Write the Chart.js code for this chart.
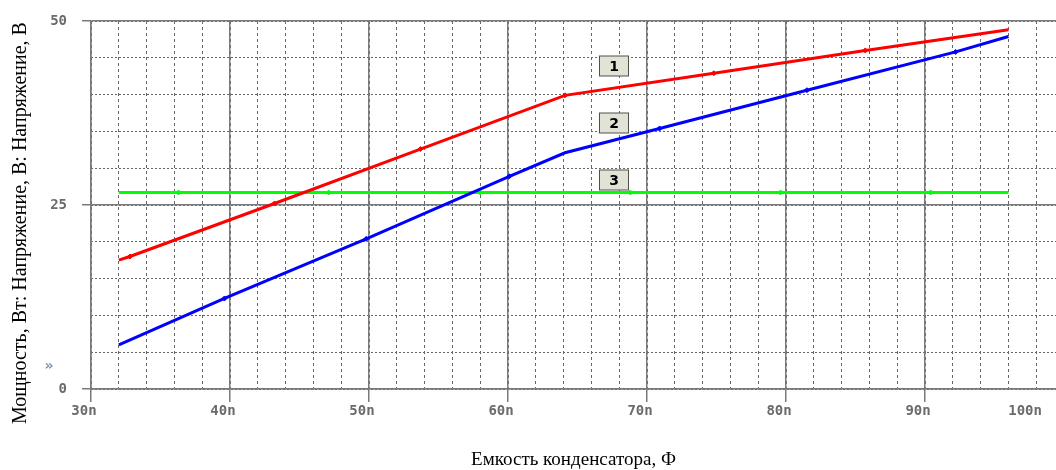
<!DOCTYPE html>
<html><head><meta charset="utf-8">
<script src="https://cdn.jsdelivr.net/npm/chart.js@4.4.1/dist/chart.umd.min.js"></script>
<style>html,body{margin:0;padding:0;background:#fff;overflow:hidden}#wrap{width:1056px;height:470px;position:relative}</style>
</head><body><div id="wrap"><canvas id="c"></canvas></div>
<script>
const xTitle = 'Емкость конденсатора, Ф';
const yTitle = 'Мощность, Вт: Напряжение, В: Напряжение, В';
const xTickValues = [30, 40, 50, 60, 70, 80, 90, 100];
const xTickLabels = ['30n', '40n', '50n', '60n', '70n', '80n', '90n', '100n'];
const yTickLabels = ['0', '25', '50'];
const seriesNames = ['1', '2', '3'];
// capacitance in nF
const redX = [32.0, 32.8, 43.2, 53.7, 64.1, 74.8, 85.7, 96.0];
const redY = [17.5, 18.0, 25.2, 32.6, 39.9, 42.9, 46.0, 48.8];
const redMark = [0, 1, 1, 1, 1, 1, 1, 0];
const blueX = [32.0, 39.6, 49.8, 60.1, 64.1, 70.9, 81.5, 92.2, 96.0];
const blueY = [6.0, 12.3, 20.4, 28.9, 32.1, 35.4, 40.6, 45.8, 47.9];
const blueMark = [0, 1, 1, 1, 0, 1, 1, 1, 0];
const greenX = [32.0, 36.3, 47.1, 58.0, 68.8, 79.6, 90.4, 96.0];
const greenY = [26.7, 26.7, 26.7, 26.7, 26.7, 26.7, 26.7, 26.7];
const greenMark = [0, 1, 1, 1, 1, 1, 1, 0];
const tagX = [67.6, 67.6, 67.6];
const tagY = [43.9, 36.1, 28.4];

const X_MIN = 30, X_MAX = 99.42, LAST_LABEL_AT = 97.7;
const AXIS_GREY = '#7a7a7a', MINOR_GREY = '#666666';

function pts(xs, ys) { return xs.map((x, i) => ({ x: x, y: ys[i] })); }
function ds(label, xs, ys, marks, color) {
  return {
    label: label, data: pts(xs, ys), borderColor: color, backgroundColor: color,
    borderWidth: 3, tension: 0, pointStyle: 'rectRot',
    pointRadius: marks.map(m => m ? 2.5 : 0), pointBorderWidth: 1, pointHoverRadius: 0
  };
}

const overlay = {
  id: 'overlay',
  afterDatasetsDraw(chart) {
    const ctx = chart.ctx, xs = chart.scales.x, ys = chart.scales.y;
    ctx.save();
    for (let i = 0; i < seriesNames.length; i++) {
      const px = Math.round(xs.getPixelForValue(tagX[i])), py = Math.round(ys.getPixelForValue(tagY[i]));
      ctx.fillStyle = '#e1e4d4';
      ctx.fillRect(px - 14.5, py - 10, 29, 20);
      ctx.strokeStyle = '#505050'; ctx.lineWidth = 1;
      ctx.strokeRect(px - 14.5, py - 10, 29, 20);
      ctx.fillStyle = '#000';
      ctx.font = 'bold 14px "DejaVu Sans"';
      ctx.textAlign = 'center'; ctx.textBaseline = 'middle';
      ctx.fillText(seriesNames[i], px, py + 1);
    }
    ctx.restore();
  },
  afterDraw(chart) {
    const ctx = chart.ctx;
    ctx.save();
    ctx.translate(21, 223);
    ctx.rotate(-Math.PI / 2);
    ctx.font = '20px "Liberation Serif"';
    ctx.fillStyle = '#000';
    ctx.textAlign = 'center'; ctx.textBaseline = 'middle';
    ctx.fillText(yTitle, 0, 0);
    ctx.restore();
    ctx.save();
    ctx.font = 'bold 14px "DejaVu Sans"';
    ctx.fillStyle = '#8593a8';
    ctx.textAlign = 'center'; ctx.textBaseline = 'middle';
    ctx.fillText('»', 49, 366);
    ctx.restore();
  }
};

new Chart(document.getElementById('c'), {
  type: 'line',
  data: { datasets: [
    ds('1', redX, redY, redMark, '#ff0000'),
    ds('2', blueX, blueY, blueMark, '#0000ff'),
    ds('3', greenX, greenY, greenMark, '#00ff00')
  ] },
  options: {
    responsive: true, maintainAspectRatio: false, animation: false,
    layout: { padding: { top: 21, right: 0, bottom: 0, left: 0 } },
    plugins: { legend: { display: false }, tooltip: { enabled: false } },
    scales: {
      xMinor: {
        type: 'linear', position: 'bottom', min: X_MIN, max: X_MAX,
        ticks: { display: false, stepSize: 2, includeBounds: false },
        grid: { color: MINOR_GREY, lineWidth: 1, drawTicks: false },
        border: { display: false, dash: [3, 3] },
        afterFit(s) { s.height = 0; s.paddingLeft = 0; s.paddingRight = 0; }
      },
      yMinor: {
        type: 'linear', position: 'left', min: 0, max: 50,
        ticks: { display: false, stepSize: 5 },
        grid: { color: MINOR_GREY, lineWidth: 1, drawTicks: false },
        border: { display: false, dash: [2, 2] },
        afterFit(s) { s.width = 0; s.paddingTop = 0; s.paddingBottom = 0; }
      },
      x: {
        type: 'linear', position: 'bottom', min: X_MIN, max: X_MAX,
        afterBuildTicks(s) { s.ticks = xTickValues.map(v => ({ value: Math.min(v, LAST_LABEL_AT) })); },
        ticks: {
          autoSkip: false, maxRotation: 0, padding: 1, labelOffset: -7,
          color: '#6b6b6b', font: { family: '"DejaVu Sans Mono"', size: 14, weight: 'bold' },
          callback: (v, i) => xTickLabels[i]
        },
        grid: {
          color: c => (c.tick && c.tick.value > X_MAX - 2) ? 'rgba(0,0,0,0)' : AXIS_GREY,
          tickColor: c => (c.tick && c.tick.value > X_MAX - 2) ? 'rgba(0,0,0,0)' : AXIS_GREY,
          lineWidth: 1.5, tickLength: 13
        },
        border: { display: true, color: AXIS_GREY, width: 1.5 },
        title: { display: true, text: xTitle, color: '#000', font: { family: '"Liberation Serif"', size: 19 }, padding: { top: 0, bottom: -1 } },
        afterFit(s) { s.height = 81; s.paddingLeft = 0; s.paddingRight = 0; }
      },
      y: {
        type: 'linear', position: 'left', min: 0, max: 50,
        ticks: {
          stepSize: 25, padding: 15, color: '#6b6b6b',
          font: { family: '"DejaVu Sans Mono"', size: 14, weight: 'bold' },
          callback: (v, i) => yTickLabels[i]
        },
        grid: { color: AXIS_GREY, lineWidth: 1.5, tickLength: 9 },
        border: { display: true, color: AXIS_GREY, width: 1.5 },
        afterFit(s) { s.width = 91; s.paddingTop = 0; s.paddingBottom = 0; }
      }
    }
  },
  plugins: [overlay]
});
</script></body></html>
